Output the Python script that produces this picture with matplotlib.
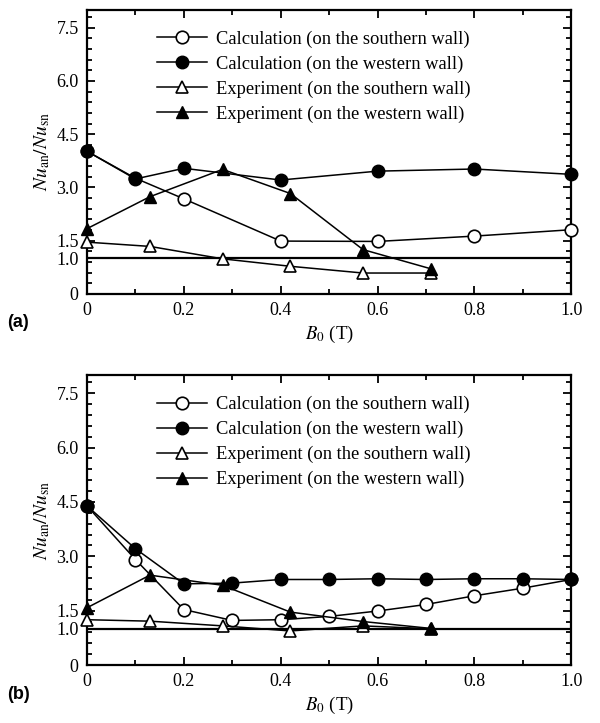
import matplotlib
matplotlib.use('Agg')
import matplotlib.pyplot as plt
from matplotlib.ticker import MultipleLocator, FixedLocator

plt.rcParams['font.family'] = ['Liberation Serif', 'DejaVu Serif']
plt.rcParams['mathtext.fontset'] = 'stix'

# panel (a)
a_calc_x = [0, 0.1, 0.2, 0.4, 0.6, 0.8, 1.0]
a_calc_south = [4.02, 3.26, 2.68, 1.49, 1.48, 1.63, 1.81]
a_calc_west = [4.02, 3.24, 3.54, 3.21, 3.46, 3.52, 3.37]
a_exp_x = [0, 0.13, 0.28, 0.42, 0.57, 0.71]
a_exp_south = [1.46, 1.34, 0.99, 0.78, 0.59, 0.59]
a_exp_west = [1.84, 2.74, 3.51, 2.83, 1.25, 0.71]

# panel (b)
b_calc_x = [0, 0.1, 0.2, 0.3, 0.4, 0.5, 0.6, 0.7, 0.8, 0.9, 1.0]
b_calc_south = [4.39, 2.91, 1.53, 1.23, 1.25, 1.34, 1.49, 1.67, 1.91, 2.12, 2.36]
b_calc_west = [4.39, 3.21, 2.24, 2.26, 2.36, 2.36, 2.38, 2.36, 2.38, 2.38, 2.36]
b_exp_x = [0, 0.13, 0.28, 0.42, 0.57, 0.71]
b_exp_south = [1.25, 1.21, 1.08, 0.94, 1.08, 1.0]
b_exp_west = [1.58, 2.48, 2.20, 1.46, 1.20, 1.01]

labels = ['Calculation (on the southern wall)',
          'Calculation (on the western wall)',
          'Experiment (on the southern wall)',
          'Experiment (on the western wall)']
y_ticks = [0, 1.0, 1.5, 3.0, 4.5, 6.0, 7.5]
y_tick_labels = ['0', '1.0', '1.5', '3.0', '4.5', '6.0', '7.5']
x_ticks = [0, 0.2, 0.4, 0.6, 0.8, 1.0]
x_tick_labels = ['0', '0.2', '0.4', '0.6', '0.8', '1.0']


def draw_panel(ax, cx, cs, cw, ex, es, ew, letter):
    ax.axhline(1.0, color='black', lw=1.6, zorder=1)
    kw = dict(color='black', lw=1.1, clip_on=False, zorder=3)
    ax.plot(cx, cs, marker='o', ms=9, mfc='white', mec='black', mew=1.2, label=labels[0], **kw)
    ax.plot(cx, cw, marker='o', ms=9, mfc='black', mec='black', label=labels[1], **kw)
    ax.plot(ex, es, marker='^', ms=9, mfc='white', mec='black', mew=1.2, label=labels[2], **kw)
    ax.plot(ex, ew, marker='^', ms=9, mfc='black', mec='black', label=labels[3], **kw)

    ax.set_xlim(0, 1.0)
    ax.set_ylim(0, 8.0)
    ax.yaxis.set_major_locator(FixedLocator(y_ticks))
    ax.set_yticklabels(y_tick_labels)
    ax.yaxis.set_minor_locator(MultipleLocator(0.3))
    ax.set_xticks(x_ticks)
    ax.set_xticklabels(x_tick_labels)
    ax.xaxis.set_minor_locator(MultipleLocator(0.1))
    ax.tick_params(which='both', direction='in', top=True, right=True,
                   labelsize=13, width=1.3)
    ax.tick_params(which='major', length=6, pad=6)
    ax.tick_params(which='minor', length=3.5)
    for s in ax.spines.values():
        s.set_linewidth(1.6)

    ax.set_ylabel(r'$Nu_{\rm an}/Nu_{\rm sn}$', fontsize=14, labelpad=3)
    ax.set_xlabel(r'$B_{\mathit{0}}$ (T)', fontsize=13.5, labelpad=3)

    ax.legend(loc='upper left', bbox_to_anchor=(0.145, 0.928), frameon=False,
              fontsize=13.3, handlelength=2.7, handletextpad=0.5,
              labelspacing=0.42, borderpad=0, borderaxespad=0)
    ax.text(-0.165, -0.1, letter, transform=ax.transAxes, fontsize=13,
            fontweight='bold', family='Liberation Sans', va='center')


fig = plt.figure(figsize=(6.0, 7.23), dpi=100)
ax_a = fig.add_axes([0.145, 0.5934, 0.807, 0.3928])
ax_b = fig.add_axes([0.145, 0.0802, 0.807, 0.401])

draw_panel(ax_a, a_calc_x, a_calc_south, a_calc_west, a_exp_x, a_exp_south, a_exp_west, '(a)')
draw_panel(ax_b, b_calc_x, b_calc_south, b_calc_west, b_exp_x, b_exp_south, b_exp_west, '(b)')

fig.savefig('out.png', dpi=100)
